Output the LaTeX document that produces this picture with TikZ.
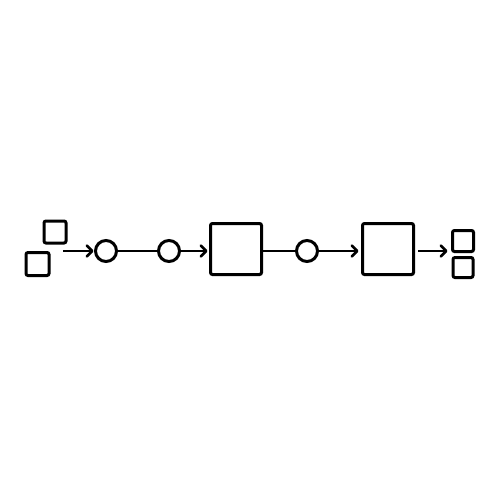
\documentclass[tikz,border=0pt]{standalone}
\usetikzlibrary{arrows.meta}
\begin{document}
\begin{tikzpicture}[x=1pt,y=-1pt,
  every path/.style={line width=3pt},
  sq/.style={draw, rounded corners=2pt, minimum size=#1, inner sep=0pt, outer sep=0pt},
  circ/.style={draw, circle, minimum size=21pt, inner sep=0pt, outer sep=0pt},
  conn/.style={line width=2.6pt},
  arr/.style={conn, -{Straight Barb[length=5.5pt,width=11pt,round]}}
]
\useasboundingbox (0,0) rectangle (500,500);
\node[sq=22pt] (s1) at (55,232) {};
\node[sq=23pt] (s2) at (37.5,264) {};
\coordinate (a0) at (63,251);
\node[circ] (c1) at (106,251) {};
\node[circ] (c2) at (169,251) {};
\node[sq=51pt] (b1) at (236,249) {};
\node[circ] (c3) at (307,251) {};
\node[sq=51pt] (b2) at (388,249) {};
\node[sq=21pt] (r1) at (463,241) {};
\node[sq=20pt] (r2) at (463,267.5) {};
\coordinate (a1) at (418,251);
\draw[arr] (a0) -- ([xshift=-2pt]c1.west);
\draw[conn] (c1) -- (c2);
\draw[arr] (c2.east) -- ([xshift=-3pt]b1.west |- c2);
\draw[conn] (b1.east |- c3) -- (c3);
\draw[arr] (c3.east) -- ([xshift=-4pt]b2.west |- c3);
\draw[arr] (a1) -- ([xshift=-5pt]r1.west |- a1);
\end{tikzpicture}
\end{document}
